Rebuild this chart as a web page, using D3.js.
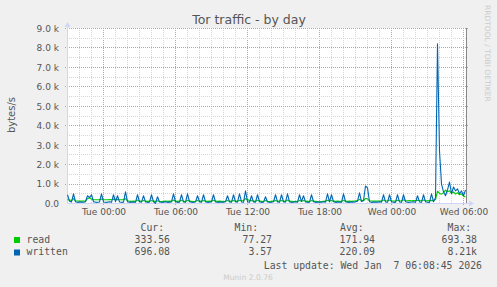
<!DOCTYPE html>
<html><head><meta charset="utf-8">
<script src="https://cdn.jsdelivr.net/npm/d3@7"></script>
<style>
html,body{margin:0;padding:0;background:#f0f0f0;}
svg{display:block;}
</style></head>
<body>
<script>
// ---- data (10-minute samples, first sample Mon 5 Jan 2026 21:00) ----
const seriesNames = ["read", "written"];
const seriesColors = ["#00cc00", "#0066b3"];
const readValues = [
  200,180,150,250,140,130,120,130,120,130,
  250,300,220,200,190,190,200,230,190,190,
  190,200,190,220,200,210,190,190,200,250,
  140,120,110,120,110,180,120,110,150,120,
  110,120,160,120,110,140,110,100,110,120,
  110,120,110,180,120,110,120,170,110,100,
  170,120,110,100,110,150,120,110,160,120,
  110,120,110,170,120,110,120,110,100,110,
  150,120,110,160,120,110,170,130,150,250,
  200,150,160,120,110,170,120,110,100,150,
  110,100,110,120,160,120,110,160,120,110,
  180,120,110,100,110,100,160,120,150,120,
  110,100,150,120,110,100,77,100,110,120,
  170,130,160,120,110,120,110,100,170,120,
  110,120,110,120,130,150,220,150,140,260,
  240,140,130,120,130,120,130,120,180,140,
  130,180,140,130,120,170,140,130,190,150,
  140,150,140,150,140,170,150,140,180,150,
  140,150,160,150,200,630,520,480,560,693,
  600,650,520,600,480,560,450,500,380,333.56
];
const writtenValues = [
  450,120,80,500,90,60,70,80,60,90,
  400,300,450,90,70,60,80,500,80,60,
  70,90,60,450,100,400,80,60,70,600,
  90,60,70,80,60,450,90,70,400,80,
  60,70,450,90,4,350,80,60,70,90,
  60,70,80,500,90,60,70,450,80,60,
  500,90,70,60,80,400,90,60,450,80,
  60,70,90,450,80,60,70,80,60,90,
  400,80,60,450,90,70,500,80,60,650,
  90,60,400,80,70,450,90,60,70,350,
  80,60,70,90,450,80,60,450,90,70,
  500,80,60,70,90,60,450,100,400,80,
  60,70,450,90,60,70,80,60,90,70,
  500,80,450,90,60,70,80,60,500,90,
  70,60,80,70,90,120,550,100,150,900,
  800,90,60,70,80,60,90,70,450,80,
  60,450,90,70,60,450,80,60,450,90,
  70,60,80,90,60,400,80,60,450,90,
  70,60,500,90,300,8210,2700,1000,600,400,
  700,1100,500,850,650,750,500,650,400,696.08
];
const yTickValues = [0,1000,2000,3000,4000,5000,6000,7000,8000,9000];
const yTickLabels = ["0.0","1.0 k","2.0 k","3.0 k","4.0 k","5.0 k","6.0 k","7.0 k","8.0 k","9.0 k"];
const xTickLabels = ["Tue 00:00","Tue 06:00","Tue 12:00","Tue 18:00","Wed 00:00","Wed 06:00"];
const legendHeaders = ["Cur:","Min:","Avg:","Max:"];
const readStats = ["333.56","77.27","171.94","693.38"];
const writtenStats = ["696.08","3.57","220.09","8.21k"];
const titleText = "Tor traffic - by day";
const yLabelText = "bytes/s";
const lastUpdate = "Last update: Wed Jan  7 06:08:45 2026";

// ---- layout ----
const W = 497, H = 287;
const L = 67, R = 467, T = 28, B = 203;
const HOUR = 3600000;
const tue0 = Date.UTC(2026,0,6,0,0,0);
const t0 = tue0 - 3*HOUR;               // first sample Mon 21:00
const step = 10*60*1000;
const xStart = tue0 - 36.5/12*HOUR;
const xEnd = xStart + 400/12*HOUR;
const x = d3.scaleLinear().domain([xStart,xEnd]).range([L,R]);
const y = d3.scaleLinear().domain([0,9000]).range([B+0.5,T+0.5]);

const svg = d3.select("body").append("svg").attr("width",W).attr("height",H)
  .style("font-family","'DejaVu Sans', sans-serif");
svg.append("rect").attr("width",W).attr("height",H).attr("fill","#f0f0f0");
svg.append("rect").attr("x",L).attr("y",T).attr("width",R-L).attr("height",B-T).attr("fill","#ffffff");

// grid
const g = svg.append("g").attr("shape-rendering","crispEdges");
const hourOffsets = d3.range(-2, 31);    // hours relative to Tue 00:00
const minorCol = "#d6d6d6", majorCol = "#dc9494";
const isMajor = k => ((k % 6) + 6) % 6 === 0;
hourOffsets.filter(k => !isMajor(k)).concat(hourOffsets.filter(isMajor)).forEach(k => {
  const major = isMajor(k);
  const xx = x(tue0 + k*HOUR);
  g.append("line").attr("x1",xx).attr("x2",xx).attr("y1",T).attr("y2",B + (major?2:0))
    .attr("stroke", major ? majorCol : minorCol).attr("stroke-dasharray","1,1");
});
d3.range(500, 9001, 500).forEach(v => {
  const major = v % 1000 === 0;
  const yy = Math.round(y(v) - 0.5) + 0.5;
  g.append("line").attr("x1", major ? L-2 : L).attr("x2", major ? R+2 : R).attr("y1",yy).attr("y2",yy)
    .attr("stroke", major ? majorCol : minorCol).attr("stroke-dasharray","1,1");
});

// axes
const yAxis = d3.axisLeft(y).tickValues(yTickValues).tickFormat((d,i)=>yTickLabels[i]).tickSize(0).tickPadding(8);
const ya = svg.append("g").attr("transform",`translate(${L},0)`).call(yAxis);
ya.select(".domain").remove();
ya.selectAll("text").attr("fill","#555").style("font-size","9px").style("font-family","'DejaVu Sans', sans-serif");

const xTickTimes = xTickLabels.map((s,i)=> tue0 + i*6*HOUR);
const xAxis = d3.axisBottom(x).tickValues(xTickTimes).tickFormat((d,i)=>xTickLabels[i]).tickSize(0).tickPadding(5.5);
const xa = svg.append("g").attr("transform",`translate(0,${B})`).call(xAxis);
xa.select(".domain").remove();
xa.selectAll("text").attr("fill","#555").style("font-size","9px").style("font-family","'DejaVu Sans', sans-serif");

// axis lines + arrows
svg.append("line").attr("x1",L+0.5).attr("x2",L+0.5).attr("y1",T-3).attr("y2",B+1).attr("stroke","#cfd6f8");
svg.append("line").attr("x1",L).attr("x2",R+2).attr("y1",B+0.5).attr("y2",B+0.5).attr("stroke","#cfd6f8");
svg.append("path").attr("d",`M${L-2.5},${T-1} L${L+3.5},${T-1} L${L+0.5},${T-6} Z`).attr("fill","#cfd6f8");
svg.append("path").attr("d",`M${R+2},${B-2.5} L${R+2},${B+3.5} L${R+7},${B+0.5} Z`).attr("fill","#cfd6f8");
svg.append("line").attr("x1",R-0.5).attr("x2",R-0.5).attr("y1",T).attr("y2",B).attr("stroke","#888");

// series
const mk = vals => vals.map((v,i)=>({t:t0+i*step, v}));
const line = d3.line().x(d=>x(d.t)).y(d=>y(d.v));
[readValues, writtenValues].forEach((vals,k)=>{
  svg.append("path").datum(mk(vals)).attr("d",line).attr("fill","none")
    .attr("stroke",seriesColors[k]).attr("stroke-width",1.1).attr("stroke-linejoin","round");
});

// title, labels
svg.append("text").attr("x",249).attr("y",24).attr("text-anchor","middle").attr("fill","#555")
  .style("font-size","12.5px").text(titleText);
svg.append("text").attr("transform","translate(15,115) rotate(-90)").attr("text-anchor","middle")
  .attr("fill","#555").style("font-size","10px").text(yLabelText);
svg.append("text").attr("transform","translate(485,5) rotate(90)").attr("text-anchor","start")
  .attr("fill","#cccccc").style("font-size","7.5px").text("RRDTOOL / TOBI OETIKER");
svg.append("text").attr("x",248).attr("y",280).attr("text-anchor","middle").attr("fill","#cccccc")
  .style("font-size","7.6px").text("Munin 2.0.76");

// legend
const mono = "'DejaVu Sans Mono', monospace";
const lg = svg.append("g").style("font-family",mono).style("font-size","9.8px").attr("fill","#555");
const headX = [140.5, 234.5, 340, 447.5];
const valX = [170, 272, 375, 477];
legendHeaders.forEach((h,i)=> lg.append("text").attr("x",headX[i]).attr("y",231).text(h));
[readStats, writtenStats].forEach((st,k)=>{
  const yy = 242.5 + k*12.5;
  lg.append("rect").attr("x",14).attr("y",yy-5.5).attr("width",6).attr("height",6).attr("fill",seriesColors[k]);
  lg.append("text").attr("x",26.5).attr("y",yy).text(seriesNames[k]);
  st.forEach((s,i)=> lg.append("text").attr("x",valX[i]).attr("y",yy).attr("text-anchor","end").text(s));
});
lg.append("text").attr("x",482).attr("y",268.5).attr("text-anchor","end").style("white-space","pre")
  .attr("xml:space","preserve").text(lastUpdate);
</script>
</body></html>
